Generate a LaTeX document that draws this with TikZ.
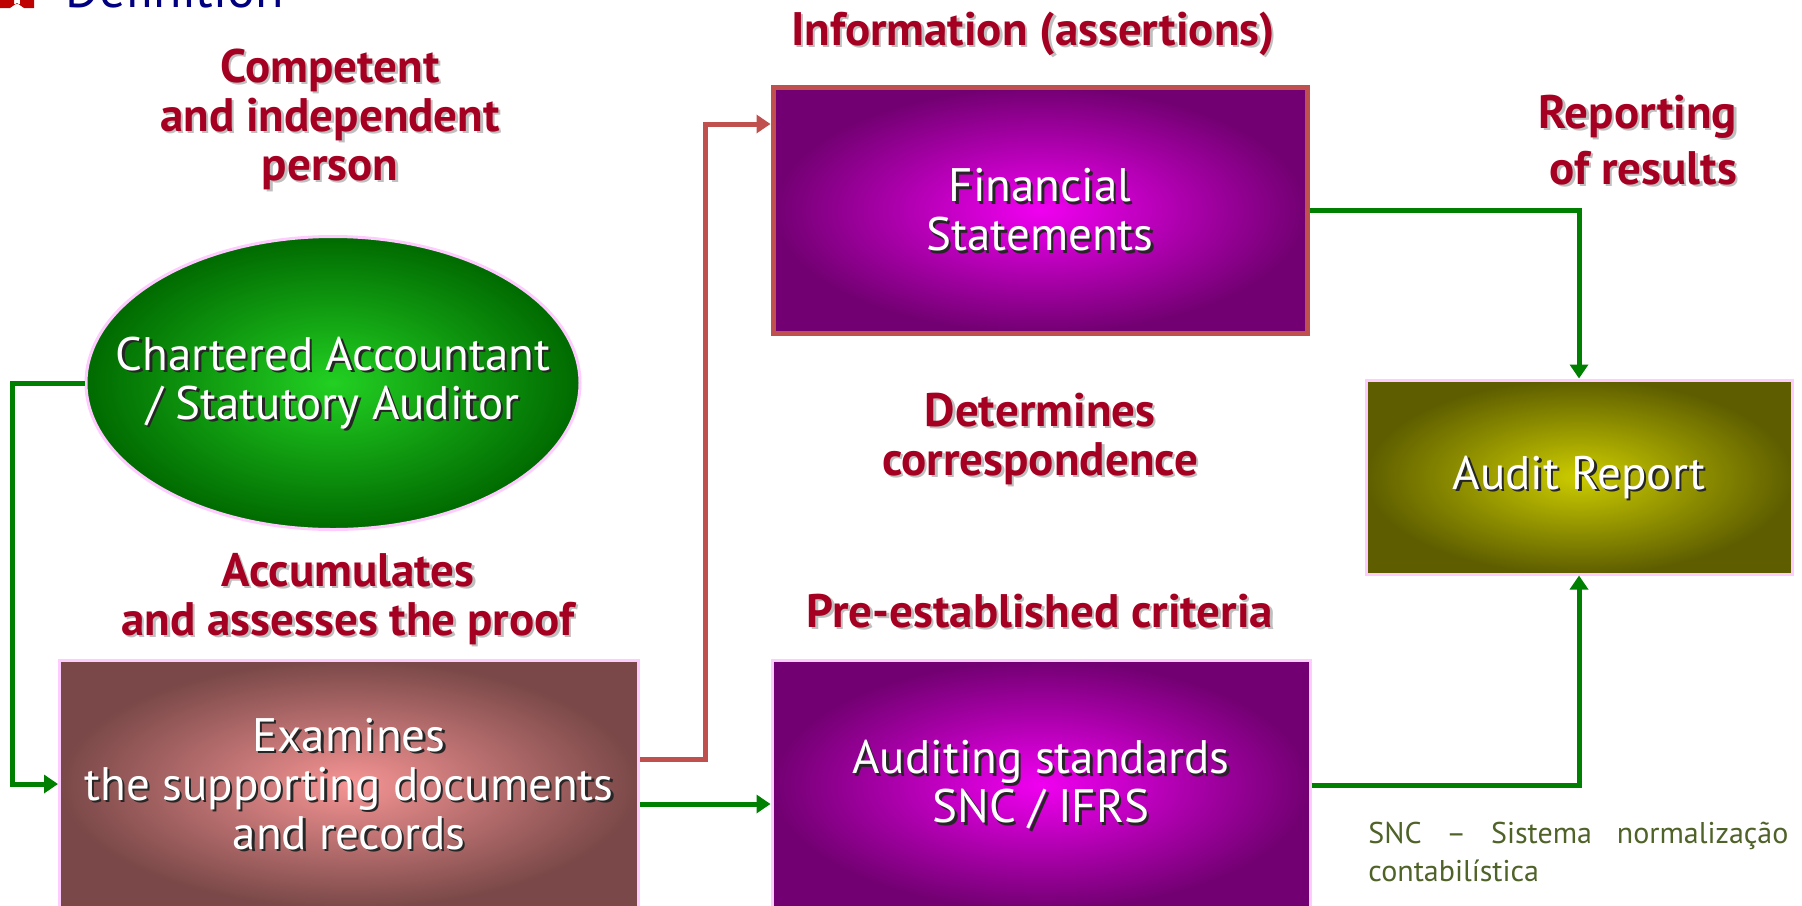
\documentclass[tikz,border=0pt]{standalone}
\usepackage{fontspec}
\setmainfont{PT Sans}
\usetikzlibrary{arrows.meta,shapes.geometric}
\definecolor{lblred}{HTML}{A50021}
\definecolor{navy}{HTML}{000080}
\definecolor{boxpink}{HTML}{FFCCFF}
\definecolor{conred}{HTML}{C0504D}
\definecolor{congreen}{HTML}{008000}
\definecolor{notegreen}{HTML}{4F6228}
\definecolor{exin}{HTML}{F59494}
\definecolor{exout}{HTML}{7A4848}
\definecolor{fsin}{HTML}{F000F0}
\definecolor{fsout}{HTML}{720072}
\definecolor{cain}{HTML}{22D022}
\definecolor{caout}{HTML}{006A00}
\definecolor{arin}{HTML}{CCCC00}
\definecolor{arout}{HTML}{5E5E00}
\newcommand\shd[2][black!85]{\leavevmode\rlap{\kern1.2pt\raisebox{-1.2pt}[0pt][0pt]{\color{#1}#2}}#2}
\tikzset{
  box/.style={draw=boxpink, line width=1.5pt, inner sep=0pt, align=center, text=white,
    font=\fontsize{23.5}{24.5}\selectfont},
  lab/.style={text=lblred, align=center, font=\bfseries\fontsize{23.5}{24.5}\selectfont},
  garrow/.style={draw=congreen, line width=2.5pt, -{Triangle[length=7pt,width=9pt]}},
  rarrow/.style={draw=conred, line width=2.5pt, -{Triangle[length=7pt,width=9pt]}}
}
\begin{document}
\begin{tikzpicture}[x=0.5pt,y=-0.5pt]
\useasboundingbox (0,0) rectangle (1802,905);
\fill[red!75!black] (0,0) -- (14,0) -- (14,4) -- (20,4) -- (20,0) -- (34,0) -- (34,8) -- (24,8) -- (17,3) -- (10,8) -- (0,8) -- cycle;
\node[text=navy, anchor=base west, font=\fontsize{26}{28}\selectfont] (def) at (58,7) {Definition};
\node[box, ellipse, inner xsep=-26pt, inner ysep=22pt, minimum width=247pt, minimum height=146.5pt,
  shading=radial, inner color=cain, outer color=caout] (ca) at (333,383)
  {\shd{Chartered Accountant}\\\shd{/ Statutory Auditor}};
\node[box, draw=conred, line width=2.5pt, minimum width=267pt, minimum height=123pt, shading=radial,
  inner color=fsin, outer color=fsout] (fs) at (1040,210)
  {\shd{Financial}\\\shd{Statements}};
\node[box, minimum width=289.5pt, minimum height=124pt, shading=radial,
  inner color=exin, outer color=exout] (ex) at (349,784)
  {\shd{Examines}\\\shd{the supporting documents}\\\shd{and records}};
\node[box, minimum width=269pt, minimum height=124.5pt, shading=radial,
  inner color=fsin, outer color=fsout] (as) at (1041,785)
  {\shd{Auditing standards}\\\shd{SNC / IFRS}};
\node[box, minimum width=213pt, minimum height=97pt, shading=radial,
  inner color=arin, outer color=arout] (ar) at (1579,477)
  {\shd{Audit Report}};
\node[lab] (comp) at (330,119) {\shd[black!25]{Competent}\\\shd[black!25]{and independent}\\\shd[black!25]{person}};
\node[lab] (info) at (1033,34) {\shd[black!25]{Information (assertions)}};
\node[lab, align=right, anchor=east, font=\bfseries\fontsize{23.5}{28}\selectfont] (rep) at (1744,140) {\shd[black!25]{Reporting}\\\shd[black!25]{of results}};
\node[lab] (det) at (1040,439) {\shd[black!25]{Determines}\\\shd[black!25]{correspondence}};
\node[lab] (acc) at (348,599) {\shd[black!25]{Accumulates}\\\shd[black!25]{and assesses the proof}};
\node[lab] (crit) at (1040,611) {\shd[black!25]{Pre-established criteria}};
\node[anchor=north west, inner sep=0pt, text width=210pt, align=justify, text=notegreen,
  font=\fontsize{15}{19}\selectfont] (snc) at (1368,822)
  {SNC -- Sistema normalização\linebreak contabilística};
\coordinate (bend) at (705,124);
\draw[garrow] (ca.west) -- ++(-72,0) |- (ex.west);
\draw[rarrow] ([yshift=12.5pt]ex.east) -| (bend) -- (bend-|fs.west);
\draw[garrow] ([yshift=-10pt]ex.east) coordinate (e1) -- (e1-|as.west);
\draw[garrow] (fs.east) -| (ar.north);
\draw[garrow] (as.east) -| (ar.south);
\end{tikzpicture}
\end{document}
